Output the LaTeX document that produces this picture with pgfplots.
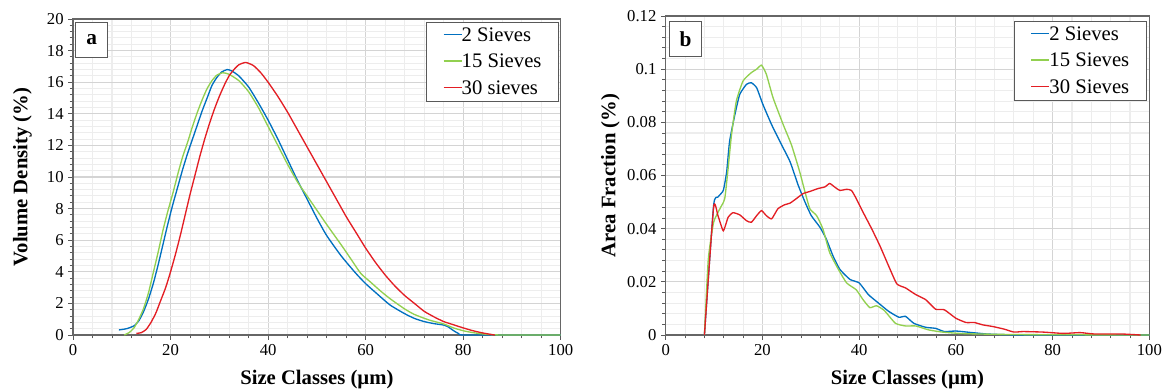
\documentclass[border=0pt]{standalone}
\usepackage{pgfplots}
\pgfplotsset{compat=1.18}
\usepackage{fontspec}
\setmainfont{Liberation Serif}
\definecolor{cblue}{RGB}{0,112,192}
\definecolor{cgreen}{RGB}{146,208,80}
\definecolor{cred}{RGB}{227,30,36}
\newcommand{\lgl}[1]{\textcolor{#1}{\rule[4.4pt]{13.5pt}{1.2pt}}}
\pgfplotsset{
  panel/.style={
    scale only axis, xmin=0, xmax=100,
    xtick={0,20,40,60,80,100}, xticklabels={0,20,40,60,80,100},
    minor x tick num=4, minor y tick num=4,
    scaled ticks=false,
    grid=both,
    major grid style={draw=black!17, line width=0.8pt},
    minor grid style={draw=black!7, line width=0.8pt},
    axis line style={draw=black!60, line width=0.9pt},
    tick align=outside, tick pos=left,
    major tick length=3.5pt, minor tick length=2.5pt,
    every tick/.style={draw=black!65, line width=0.7pt},
    tick label style={font=\fontsize{12.5}{15}\selectfont},
    xlabel style={font=\fontsize{15.5}{18}\selectfont\bfseries, at={(axis description cs:0.5,0)}, anchor=center, yshift=-33.75pt},
    ylabel style={font=\fontsize{15.5}{18}\selectfont\bfseries, at={(axis description cs:0,0.5)}, anchor=center},
    legend cell align=left,
    legend image code/.code={},
    legend style={anchor=north east, draw=black!65, line width=0.9pt, fill=white,
      font=\fontsize{15.5}{18}\selectfont, inner xsep=13pt, inner ysep=3pt, row sep=6pt,
      nodes={inner xsep=0pt, inner ysep=1pt}},
    every axis plot/.append style={line width=1pt, smooth, tension=0.35},
  },
}
\tikzset{
  boxlab/.style={draw=black!65, line width=0.9pt, fill=white, minimum width=24pt, minimum height=26.7pt,
    inner sep=0pt, anchor=north west, font=\fontsize{16}{18}\selectfont\bfseries},
}
\begin{document}
\begin{tikzpicture}
\useasboundingbox (0,0) rectangle (875.25pt,292.5pt);
% ---------------- panel a ----------------
\begin{axis}[panel, at={(54.75pt,41.25pt)}, anchor=south west,
  width=365.8pt, height=237pt,
  ymin=0, ymax=20, ytick={0,2,4,6,8,10,12,14,16,18,20},
  yticklabels={0,2,4,6,8,10,12,14,16,18,20},
  xlabel={Size Classes (µm)}, ylabel={Volume Density (\%)},
  ylabel style={yshift=38pt},
  legend style={at={(axis description cs:1,1)}, xshift=-1pt, yshift=-2pt},
]
\addplot[cblue] coordinates {(9.4,0.32)(11,0.4)(12.5,0.58)(13.5,0.9)(14.5,1.5)(15.5,2.3)(16.5,3.3)(17.5,4.5)(18.5,5.8)(19.5,7.1)(20.5,8.3)(21.5,9.4)(22.5,10.5)(23.5,11.5)(24.5,12.4)(25.5,13.3)(26.5,14.2)(27.5,15.0)(28.5,15.8)(29.5,16.3)(30.5,16.65)(31.6,16.8)(32.5,16.72)(34,16.4)(36,15.7)(38,14.7)(40,13.6)(42,12.4)(44,11.1)(46,9.8)(48,8.6)(50,7.4)(52,6.3)(55,5.0)(58,3.9)(60,3.25)(62,2.7)(65,1.9)(68,1.35)(70,1.05)(72,0.85)(74,0.72)(76,0.63)(77,0.5)(78,0.28)(79,0.1)(80,0)(90,0)(100,0)};
\addlegendentry{\lgl{cblue}2 Sieves}
\addplot[cgreen] coordinates {(10.5,0)(11.5,0.15)(12.5,0.45)(13.5,1.0)(14.5,1.7)(15.5,2.7)(16.5,4.0)(17.5,5.3)(18.5,6.7)(19.5,7.9)(20.5,9.0)(21.5,10.2)(22.5,11.3)(23.5,12.2)(24.5,13.2)(25.5,14.1)(26.5,14.9)(27.5,15.6)(28.5,16.1)(29.5,16.45)(30.7,16.6)(32,16.5)(34,16.1)(36,15.4)(38,14.4)(40,13.2)(42,12.0)(44,10.8)(46,9.7)(48,8.8)(50,7.9)(52,7.0)(55,5.7)(57,4.8)(59,3.9)(61,3.35)(63,2.8)(65,2.3)(68,1.65)(70,1.3)(73,0.95)(76,0.7)(78,0.45)(80,0.27)(82,0.15)(84,0.07)(86,0.02)(88,0)(94,0)(100,0)};
\addlegendentry{\lgl{cgreen}15 Sieves}
\addplot[cred] coordinates {(13,0.1)(14,0.15)(15,0.35)(16,0.8)(17,1.4)(18,2.2)(19,3.0)(20,4.0)(21,5.1)(22,6.3)(23,7.6)(24,8.9)(25,10.1)(26,11.3)(27,12.4)(28,13.4)(29,14.3)(30,15.1)(31,15.8)(32,16.4)(33,16.8)(34,17.1)(35.4,17.25)(37,17.05)(38.5,16.6)(40,16.0)(42,15.1)(44,14.1)(46,13.0)(48,11.9)(50,10.8)(52,9.7)(54,8.6)(56,7.5)(58,6.5)(60,5.5)(62,4.6)(64,3.8)(66,3.1)(68,2.5)(70,2.0)(72,1.5)(74,1.15)(76,0.85)(78,0.65)(80,0.45)(82,0.27)(84,0.13)(86,0.02)(86.5,0)};
\addlegendentry{\lgl{cred}30 sieves}
\node[boxlab] at (axis description cs:0,1) [xshift=1.65pt, yshift=-2pt] {a};
\end{axis}
% ---------------- panel b ----------------
\begin{axis}[panel, at={(499.3pt,41.25pt)}, anchor=south west,
  width=362.7pt, height=239.25pt,
  ymin=0, ymax=0.12, ytick={0,0.02,0.04,0.06,0.08,0.1,0.12},
  yticklabels={0,0.02,0.04,0.06,0.08,0.1,0.12},
  xlabel={Size Classes (µm)}, ylabel={Area Fraction (\%)},
  ylabel style={yshift=41.5pt},
  legend style={at={(axis description cs:1,1)}, xshift=-1.6pt, yshift=-3.5pt},
  every axis plot/.append style={tension=0.3},
]
\addplot[cblue] coordinates {(8,0)(9.9,0.0487)(10.8,0.0519)(11.9,0.0544)(12.6,0.0614)(13.2,0.0728)(14.3,0.0829)(15.3,0.0905)(16.7,0.0943)(17.7,0.0949)(18.8,0.093)(20.1,0.0867)(21.9,0.0791)(23.6,0.0728)(25.7,0.0652)(27.4,0.0563)(28.8,0.05)(30.1,0.0449)(31.9,0.0405)(33.2,0.0361)(34.6,0.0297)(36,0.0247)(38.1,0.0209)(40,0.0196)(41.9,0.0152)(44,0.012)(46.1,0.0089)(48.2,0.0067)(49.6,0.007)(51.3,0.0044)(53.75,0.0029)(55.8,0.0025)(57.6,0.0013)(60,0.0015)(62.8,0.001)(66.3,0.0004)(70.4,0.0001)(75,0)(100,0)};
\addlegendentry{\lgl{cblue}2 Sieves}
\addplot[cgreen] coordinates {(8,0)(8.8,0.0285)(9.9,0.0424)(11.2,0.0475)(12.2,0.0513)(12.9,0.0627)(13.6,0.0753)(14.6,0.088)(16,0.0956)(17.7,0.0987)(18.8,0.1)(19.8,0.1015)(20.8,0.0981)(22.2,0.0892)(24.3,0.0791)(26,0.0715)(27.7,0.0614)(28.8,0.0538)(29.8,0.0475)(31.2,0.0449)(32.5,0.0399)(33.9,0.031)(35.7,0.0247)(37.4,0.0196)(39.4,0.017)(40.8,0.0133)(42.2,0.0103)(43.6,0.011)(45.2,0.0092)(47.5,0.0044)(49.6,0.0034)(51.7,0.0034)(54.4,0.0019)(57.2,0.0011)(60.7,0.0006)(64.2,0.0004)(71,0.0002)(80,0.0001)(100,0)};
\addlegendentry{\lgl{cgreen}15 Sieves}
\addplot[cred] coordinates {(8,0)(9.9,0.0481)(10.8,0.0449)(11.9,0.0392)(12.9,0.0443)(13.9,0.046)(15.3,0.0452)(16.7,0.043)(17.7,0.0424)(18.8,0.0449)(19.8,0.0468)(20.8,0.0449)(21.9,0.0437)(23.2,0.0475)(24.6,0.049)(25.7,0.0496)(27,0.0513)(28.4,0.0532)(29.8,0.054)(31.5,0.0551)(32.9,0.0557)(33.9,0.057)(34.9,0.0557)(36,0.0544)(37.4,0.0548)(38.4,0.0544)(39.4,0.0513)(40.8,0.0462)(42.6,0.0399)(44.3,0.0335)(46.2,0.0255)(47.8,0.0192)(49.6,0.0177)(51.7,0.0152)(53.75,0.0133)(55.8,0.0097)(57.6,0.0095)(60,0.0063)(62.1,0.0047)(63.8,0.0047)(65.6,0.0038)(67.6,0.0032)(70,0.0022)(72,0.0011)(73.9,0.0013)(78,0.0011)(82.2,0.0006)(85.7,0.0009)(88.5,0.0004)(94,0.0004)(98.2,0)};
\addlegendentry{\lgl{cred}30 Sieves}
\node[boxlab] at (axis description cs:0,1) [xshift=2.4pt, yshift=-3.5pt] {b};
\end{axis}
\end{tikzpicture}
\end{document}
